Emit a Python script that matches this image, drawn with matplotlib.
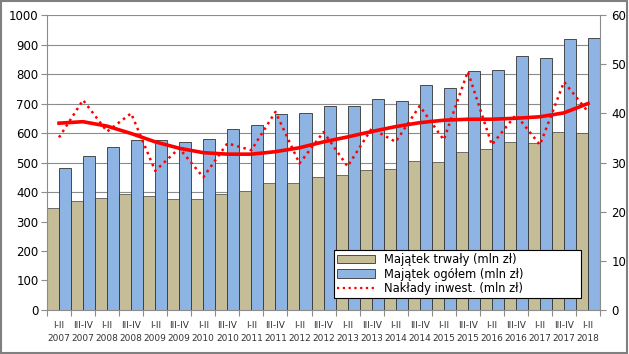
import matplotlib
matplotlib.use("Agg")
import matplotlib.pyplot as plt
from matplotlib.patches import Rectangle, Patch
from matplotlib.lines import Line2D
import numpy as np

# half-year periods
periods = ["I-II\n2007", "III-IV\n2007", "I-II\n2008", "III-IV\n2008",
           "I-II\n2009", "III-IV\n2009", "I-II\n2010", "III-IV\n2010",
           "I-II\n2011", "III-IV\n2011", "I-II\n2012", "III-IV\n2012",
           "I-II\n2013", "III-IV\n2013", "I-II\n2014", "III-IV\n2014",
           "I-II\n2015", "III-IV\n2015", "I-II\n2016", "III-IV\n2016",
           "I-II\n2017", "III-IV\n2017", "I-II\n2018"]

# Majątek trwały (mln zł) - left axis
fixed_assets = [345, 369, 380, 393, 386, 375, 375, 393, 402, 429, 429, 450,
                456, 476, 478, 504, 502, 536, 545, 568, 565, 602, 599]

# Majątek ogółem (mln zł) - left axis
total_assets = [482, 523, 552, 576, 576, 569, 580, 612, 628, 663, 667, 690,
                690, 716, 708, 762, 751, 809, 813, 860, 853, 917, 921]

# Nakłady inwest. (mln zł) - right axis
investment = [35.1, 42.7, 36.3, 40.0, 28.3, 32.9, 27.0, 33.9, 32.5, 40.3,
              29.8, 36.2, 29.2, 36.9, 34.2, 41.5, 34.6, 48.5, 33.6, 39.7,
              33.6, 46.4, 40.3]

# trend line of the investment series
investment_trend = [38.0, 38.3, 37.4, 35.9, 34.2, 32.9, 32.0, 31.7, 31.7,
                    32.2, 33.0, 34.2, 35.2, 36.3, 37.3, 38.1, 38.6, 38.8,
                    38.8, 39.0, 39.3, 40.1, 42.0]

tan = "#C4BD97"
blue = "#8EB4E3"
red = "#FF0000"
dots = (0, (1, 1.6))

x = np.arange(len(periods))

fig = plt.figure(figsize=(6.29, 3.54), dpi=100)
ax = fig.add_axes([0.0747, 0.1243, 0.8793, 0.8333])
ax2 = ax.twinx()

# bars
ax.bar(x - 0.25, fixed_assets, width=0.5, color=tan, edgecolor="#5a5a5a",
       linewidth=0.6, zorder=2)
ax.bar(x + 0.25, total_assets, width=0.5, color=blue, edgecolor="#333333",
       linewidth=0.6, zorder=2)

ax.set_xlim(-0.5, len(periods) - 0.5)
ax.set_ylim(0, 1000)
ax.set_yticks(range(0, 1001, 100))
ax.yaxis.grid(True, color="#8C8C8C", linewidth=0.8, zorder=0)
ax.set_axisbelow(True)

# x ticks at category borders, labels centred
ax.set_xticks(np.arange(-0.5, len(periods), 1.0))
ax.set_xticklabels([])
ax.set_xticks(x, minor=True)
ax.set_xticklabels(periods, minor=True, fontsize=6.5, linespacing=1.55,
                   color="#333333")
ax.tick_params(axis="x", which="minor", length=0, pad=8)
ax.tick_params(axis="x", which="major", length=4, color="#8C8C8C")
ax.tick_params(axis="y", labelsize=8.5, length=4, color="#8C8C8C", pad=2)

for side in ["top", "right"]:
    ax.spines[side].set_visible(False)
for side in ["left", "bottom"]:
    ax.spines[side].set_color("#8C8C8C")

# lines on the right axis
ax2.plot(x, investment, color=red, linestyle=dots, linewidth=1.8, zorder=3)
ax2.plot(x, investment_trend, color=red, linewidth=2.6, zorder=3)
ax2.set_ylim(0, 60)
ax2.set_yticks(range(0, 61, 10))
ax2.tick_params(axis="y", labelsize=8.5, length=4, color="#8C8C8C", pad=4)
for side in ["top", "left", "bottom"]:
    ax2.spines[side].set_visible(False)
ax2.spines["right"].set_color("#8C8C8C")

handles = [Patch(facecolor=tan, edgecolor="#333333", linewidth=0.6),
           Patch(facecolor=blue, edgecolor="#333333", linewidth=0.6),
           Line2D([0], [0], color=red, linestyle=dots, linewidth=1.6)]
labels = ["Majątek trwały (mln zł)", "Majątek ogółem (mln zł)",
          "Nakłady inwest. (mln zł)"]
leg = ax2.legend(handles, labels, loc="lower left",
                 bbox_to_anchor=(0.519, 0.041, 0.447, 0.166), mode="expand",
                 fontsize=8.3, fancybox=False, edgecolor="black", framealpha=1,
                 borderpad=0.25, labelspacing=0.12, handlelength=3.3,
                 handleheight=0.75, borderaxespad=0)
leg.get_frame().set_linewidth(0.8)

# chart area border
fig.patches.append(Rectangle((0.002, 0.003), 0.995, 0.993,
                             transform=fig.transFigure, fill=False,
                             edgecolor="#808080", linewidth=1.5))

fig.savefig("out.png", dpi=100)
